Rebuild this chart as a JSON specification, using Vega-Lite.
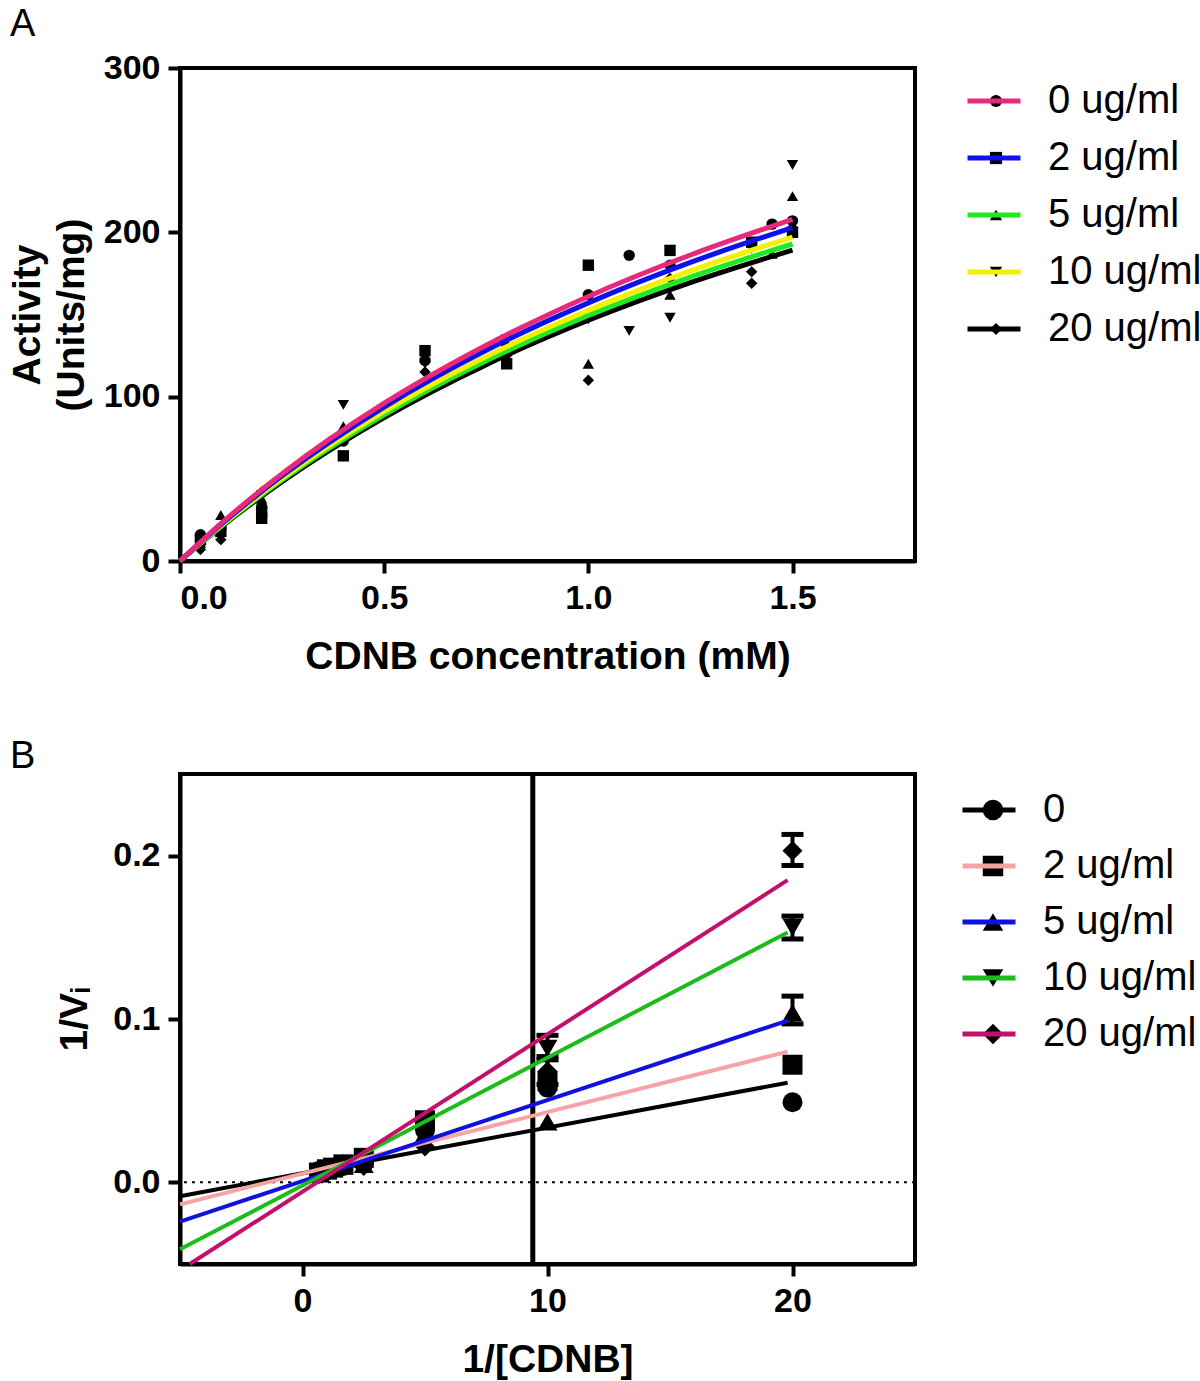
{
  "$schema": "https://vega.github.io/schema/vega-lite/v6.json",
  "background": "white",
  "padding": {"left": 6, "top": 4, "right": 0, "bottom": 0},
  "config": {
    "font": "Liberation Sans",
    "view": {"stroke": "black", "strokeWidth": 4},
    "axis": {"domainColor": "black", "domainWidth": 4, "tickColor": "black", "tickWidth": 4, "tickSize": 12, "labelFont": "Liberation Sans", "labelFontSize": 34, "labelFontWeight": "bold", "labelColor": "black", "labelPadding": 8, "titleFont": "Liberation Sans", "titleFontSize": 39, "titleFontWeight": "bold", "titleColor": "black", "titleLineHeight": 44, "grid": false},
    "legend": {"labelFont": "Liberation Sans", "labelFontSize": 40, "labelColor": "black", "padding": 0},
    "title": {"font": "Liberation Sans", "fontSize": 38, "fontWeight": "normal", "color": "black", "anchor": "start", "frame": "group", "dx": -170}
  },
  "spacing": 57,
  "resolve": {"scale": {"color": "independent", "shape": "independent", "x": "independent", "y": "independent"}},
  "vconcat": [
    {
      "title": {"text": "A", "offset": 7},
      "width": 735,
      "height": 493,
      "layer": [
        {
          "data": {"values": [
            {"group": "0 ug/ml", "S": 0.05, "V": 16}, {"group": "0 ug/ml", "S": 0.1, "V": 20}, {"group": "0 ug/ml", "S": 0.2, "V": 33}, {"group": "0 ug/ml", "S": 0.4, "V": 73}, {"group": "0 ug/ml", "S": 0.6, "V": 122}, {"group": "0 ug/ml", "S": 0.8, "V": 130}, {"group": "0 ug/ml", "S": 1.0, "V": 162}, {"group": "0 ug/ml", "S": 1.1, "V": 186}, {"group": "0 ug/ml", "S": 1.2, "V": 180}, {"group": "0 ug/ml", "S": 1.45, "V": 205}, {"group": "0 ug/ml", "S": 1.5, "V": 207},
            {"group": "2 ug/ml", "S": 0.05, "V": 13}, {"group": "2 ug/ml", "S": 0.1, "V": 18}, {"group": "2 ug/ml", "S": 0.2, "V": 26}, {"group": "2 ug/ml", "S": 0.2, "V": 30}, {"group": "2 ug/ml", "S": 0.4, "V": 64}, {"group": "2 ug/ml", "S": 0.6, "V": 128}, {"group": "2 ug/ml", "S": 0.8, "V": 120}, {"group": "2 ug/ml", "S": 1.0, "V": 180}, {"group": "2 ug/ml", "S": 1.2, "V": 189}, {"group": "2 ug/ml", "S": 1.4, "V": 194}, {"group": "2 ug/ml", "S": 1.5, "V": 200},
            {"group": "5 ug/ml", "S": 0.05, "V": 11}, {"group": "5 ug/ml", "S": 0.1, "V": 28}, {"group": "5 ug/ml", "S": 0.2, "V": 38}, {"group": "5 ug/ml", "S": 0.4, "V": 82}, {"group": "5 ug/ml", "S": 0.6, "V": 124}, {"group": "5 ug/ml", "S": 0.8, "V": 128}, {"group": "5 ug/ml", "S": 1.0, "V": 120}, {"group": "5 ug/ml", "S": 1.2, "V": 162}, {"group": "5 ug/ml", "S": 1.45, "V": 187}, {"group": "5 ug/ml", "S": 1.5, "V": 222},
            {"group": "10 ug/ml", "S": 0.05, "V": 9}, {"group": "10 ug/ml", "S": 0.1, "V": 16}, {"group": "10 ug/ml", "S": 0.2, "V": 40}, {"group": "10 ug/ml", "S": 0.4, "V": 95}, {"group": "10 ug/ml", "S": 0.6, "V": 120}, {"group": "10 ug/ml", "S": 0.8, "V": 135}, {"group": "10 ug/ml", "S": 1.0, "V": 147}, {"group": "10 ug/ml", "S": 1.1, "V": 140}, {"group": "10 ug/ml", "S": 1.2, "V": 148}, {"group": "10 ug/ml", "S": 1.4, "V": 190}, {"group": "10 ug/ml", "S": 1.5, "V": 241},
            {"group": "20 ug/ml", "S": 0.05, "V": 7}, {"group": "20 ug/ml", "S": 0.1, "V": 13}, {"group": "20 ug/ml", "S": 0.2, "V": 42}, {"group": "20 ug/ml", "S": 0.4, "V": 77}, {"group": "20 ug/ml", "S": 0.6, "V": 115}, {"group": "20 ug/ml", "S": 0.8, "V": 125}, {"group": "20 ug/ml", "S": 1.0, "V": 110}, {"group": "20 ug/ml", "S": 1.2, "V": 172}, {"group": "20 ug/ml", "S": 1.4, "V": 176}, {"group": "20 ug/ml", "S": 1.4, "V": 169}, {"group": "20 ug/ml", "S": 1.5, "V": 203}
          ]},
          "mark": {"type": "point", "filled": true, "color": "black", "opacity": 1, "size": 130},
          "encoding": {
            "x": {"field": "S", "type": "quantitative", "scale": {"domain": [0, 1.8], "nice": false, "zero": false}, "axis": {"values": [0, 0.5, 1, 1.5], "format": ".1f", "title": "CDNB concentration (mM)", "titlePadding": 22}},
            "y": {"field": "V", "type": "quantitative", "scale": {"domain": [0, 300], "nice": false}, "axis": {"values": [0, 100, 200, 300], "format": "d", "title": ["Activity", "(Units/mg)"], "titlePadding": 12}},
            "shape": {"field": "group", "type": "nominal", "scale": {"domain": ["0 ug/ml", "2 ug/ml", "5 ug/ml", "10 ug/ml", "20 ug/ml"], "range": ["circle", "square", "triangle-up", "triangle-down", "diamond"]},
              "legend": {"orient": "right", "offset": 48, "padding": 13, "title": null, "symbolSize": 150, "symbolFillColor": "black", "clipHeight": 40, "rowPadding": 17, "labelExpr": "''"}}
          }
        },
        {
          "data": {"values": [
            {"series": "20 ug/ml", "S": 0, "V": 0}, {"series": "20 ug/ml", "S": 0.1, "V": 20.6}, {"series": "20 ug/ml", "S": 0.25, "V": 48.3}, {"series": "20 ug/ml", "S": 0.5, "V": 87.3}, {"series": "20 ug/ml", "S": 0.75, "V": 119.5}, {"series": "20 ug/ml", "S": 1.0, "V": 146.5}, {"series": "20 ug/ml", "S": 1.25, "V": 169.4}, {"series": "20 ug/ml", "S": 1.5, "V": 189.2},
            {"series": "5 ug/ml", "S": 0, "V": 0}, {"series": "5 ug/ml", "S": 0.1, "V": 21.0}, {"series": "5 ug/ml", "S": 0.25, "V": 49.3}, {"series": "5 ug/ml", "S": 0.5, "V": 89.0}, {"series": "5 ug/ml", "S": 0.75, "V": 121.8}, {"series": "5 ug/ml", "S": 1.0, "V": 149.4}, {"series": "5 ug/ml", "S": 1.25, "V": 172.8}, {"series": "5 ug/ml", "S": 1.5, "V": 192.9},
            {"series": "10 ug/ml", "S": 0, "V": 0}, {"series": "10 ug/ml", "S": 0.1, "V": 21.5}, {"series": "10 ug/ml", "S": 0.25, "V": 50.3}, {"series": "10 ug/ml", "S": 0.5, "V": 91.0}, {"series": "10 ug/ml", "S": 0.75, "V": 124.5}, {"series": "10 ug/ml", "S": 1.0, "V": 152.6}, {"series": "10 ug/ml", "S": 1.25, "V": 176.5}, {"series": "10 ug/ml", "S": 1.5, "V": 197.1},
            {"series": "2 ug/ml", "S": 0, "V": 0}, {"series": "2 ug/ml", "S": 0.1, "V": 22.1}, {"series": "2 ug/ml", "S": 0.25, "V": 51.8}, {"series": "2 ug/ml", "S": 0.5, "V": 93.7}, {"series": "2 ug/ml", "S": 0.75, "V": 128.2}, {"series": "2 ug/ml", "S": 1.0, "V": 157.1}, {"series": "2 ug/ml", "S": 1.25, "V": 181.7}, {"series": "2 ug/ml", "S": 1.5, "V": 202.9},
            {"series": "0 ug/ml", "S": 0, "V": 0}, {"series": "0 ug/ml", "S": 0.1, "V": 22.7}, {"series": "0 ug/ml", "S": 0.25, "V": 53.1}, {"series": "0 ug/ml", "S": 0.5, "V": 96.0}, {"series": "0 ug/ml", "S": 0.75, "V": 131.3}, {"series": "0 ug/ml", "S": 1.0, "V": 161.0}, {"series": "0 ug/ml", "S": 1.25, "V": 186.2}, {"series": "0 ug/ml", "S": 1.5, "V": 207.9}
          ]},
          "mark": {"type": "line", "strokeWidth": 5, "interpolate": "monotone"},
          "encoding": {
            "x": {"field": "S", "type": "quantitative", "scale": {"domain": [0, 1.8], "nice": false, "zero": false}},
            "y": {"field": "V", "type": "quantitative", "scale": {"domain": [0, 300], "nice": false}},
            "color": {"field": "series", "type": "nominal", "scale": {"domain": ["0 ug/ml", "2 ug/ml", "5 ug/ml", "10 ug/ml", "20 ug/ml"], "range": ["#e8287c", "#1010ee", "#22e822", "#f2f200", "#000000"]},
              "legend": {"orient": "none", "legendX": 785, "legendY": 13, "title": null, "symbolType": "stroke", "symbolSize": 2809, "symbolStrokeWidth": 5, "clipHeight": 40, "rowPadding": 17, "labelOffset": 25}}
          }
        }
      ]
    },
    {
      "title": {"text": "B", "offset": -4},
      "width": 735,
      "height": 490,
      "layer": [
        {
          "data": {"values": [{"y": 0}]},
          "mark": {"type": "rule", "strokeDash": [3, 5], "strokeWidth": 2, "color": "black"},
          "encoding": {
            "y": {"field": "y", "type": "quantitative", "scale": {"domain": [-0.05, 0.25], "nice": false, "zero": false}, "axis": {"values": [0, 0.1, 0.2], "format": ".1f", "title": "1/Vᵢ", "titlePadding": 18}}
          }
        },
        {
          "data": {"values": [{"x": 9.4}]},
          "mark": {"type": "rule", "strokeWidth": 5, "color": "black"},
          "encoding": {
            "x": {"field": "x", "type": "quantitative", "scale": {"domain": [-5, 25], "nice": false, "zero": false}, "axis": {"values": [0, 10, 20], "format": "d", "title": "1/[CDNB]", "titlePadding": 22}}
          }
        },
        {
          "data": {"values": [
            {"g": "0", "x": 0.67, "y": 0.007}, {"g": "0", "x": 1, "y": 0.008}, {"g": "0", "x": 1.25, "y": 0.009}, {"g": "0", "x": 1.67, "y": 0.010}, {"g": "0", "x": 2.5, "y": 0.012}, {"g": "0", "x": 5, "y": 0.032}, {"g": "0", "x": 10, "y": 0.058}, {"g": "0", "x": 20, "y": 0.049},
            {"g": "2 ug/ml", "x": 0.67, "y": 0.006}, {"g": "2 ug/ml", "x": 1, "y": 0.008}, {"g": "2 ug/ml", "x": 1.25, "y": 0.009}, {"g": "2 ug/ml", "x": 1.67, "y": 0.011}, {"g": "2 ug/ml", "x": 2.5, "y": 0.015}, {"g": "2 ug/ml", "x": 5, "y": 0.038}, {"g": "2 ug/ml", "x": 10, "y": 0.062}, {"g": "2 ug/ml", "x": 20, "y": 0.072},
            {"g": "5 ug/ml", "x": 0.67, "y": 0.006}, {"g": "5 ug/ml", "x": 1, "y": 0.007}, {"g": "5 ug/ml", "x": 1.25, "y": 0.009}, {"g": "5 ug/ml", "x": 1.67, "y": 0.010}, {"g": "5 ug/ml", "x": 2.5, "y": 0.011}, {"g": "5 ug/ml", "x": 5, "y": 0.030}, {"g": "5 ug/ml", "x": 10, "y": 0.037}, {"g": "5 ug/ml", "x": 20, "y": 0.104},
            {"g": "10 ug/ml", "x": 0.67, "y": 0.005}, {"g": "10 ug/ml", "x": 1, "y": 0.007}, {"g": "10 ug/ml", "x": 1.25, "y": 0.008}, {"g": "10 ug/ml", "x": 1.67, "y": 0.010}, {"g": "10 ug/ml", "x": 2.5, "y": 0.013}, {"g": "10 ug/ml", "x": 5, "y": 0.035}, {"g": "10 ug/ml", "x": 10, "y": 0.082}, {"g": "10 ug/ml", "x": 20, "y": 0.156},
            {"g": "20 ug/ml", "x": 0.67, "y": 0.005}, {"g": "20 ug/ml", "x": 1, "y": 0.006}, {"g": "20 ug/ml", "x": 1.25, "y": 0.008}, {"g": "20 ug/ml", "x": 1.67, "y": 0.011}, {"g": "20 ug/ml", "x": 2.5, "y": 0.010}, {"g": "20 ug/ml", "x": 5, "y": 0.022}, {"g": "20 ug/ml", "x": 10, "y": 0.068}, {"g": "20 ug/ml", "x": 20, "y": 0.203}
          ]},
          "mark": {"type": "point", "filled": true, "color": "black", "opacity": 1, "size": 400},
          "encoding": {
            "x": {"field": "x", "type": "quantitative", "scale": {"domain": [-5, 25], "nice": false, "zero": false}},
            "y": {"field": "y", "type": "quantitative", "scale": {"domain": [-0.05, 0.25], "nice": false, "zero": false}},
            "shape": {"field": "g", "type": "nominal", "scale": {"domain": ["0", "2 ug/ml", "5 ug/ml", "10 ug/ml", "20 ug/ml"], "range": ["circle", "square", "triangle-up", "triangle-down", "diamond"]},
              "legend": {"orient": "right", "offset": 42, "padding": 16, "title": null, "symbolSize": 420, "symbolFillColor": "black", "clipHeight": 40, "rowPadding": 16, "labelExpr": "''"}}
          }
        },
        {
          "data": {"values": [
            {"g": "5 ug/ml", "x": 20, "lo": 0.097, "hi": 0.114},
            {"g": "10 ug/ml", "x": 20, "lo": 0.149, "hi": 0.163},
            {"g": "20 ug/ml", "x": 20, "lo": 0.194, "hi": 0.213},
            {"g": "10 ug/ml", "x": 10, "lo": 0.077, "hi": 0.090},
            {"g": "20 ug/ml", "x": 10, "lo": 0.060, "hi": 0.075}
          ]},
          "layer": [
            {"mark": {"type": "rule", "strokeWidth": 4, "color": "black"},
             "encoding": {"x": {"field": "x", "type": "quantitative", "scale": {"domain": [-5, 25], "nice": false, "zero": false}}, "y": {"field": "lo", "type": "quantitative", "scale": {"domain": [-0.05, 0.25], "nice": false, "zero": false}}, "y2": {"field": "hi"}}},
            {"mark": {"type": "tick", "orient": "horizontal", "size": 22, "thickness": 5, "color": "black", "opacity": 1},
             "encoding": {"x": {"field": "x", "type": "quantitative", "scale": {"domain": [-5, 25], "nice": false, "zero": false}}, "y": {"field": "lo", "type": "quantitative", "scale": {"domain": [-0.05, 0.25], "nice": false, "zero": false}}}},
            {"mark": {"type": "tick", "orient": "horizontal", "size": 22, "thickness": 5, "color": "black", "opacity": 1},
             "encoding": {"x": {"field": "x", "type": "quantitative", "scale": {"domain": [-5, 25], "nice": false, "zero": false}}, "y": {"field": "hi", "type": "quantitative", "scale": {"domain": [-0.05, 0.25], "nice": false, "zero": false}}}}
          ]
        },
        {
          "data": {"values": [
            {"s": "0", "x": -5, "y": -0.0085}, {"s": "0", "x": 19.8, "y": 0.061},
            {"s": "2 ug/ml", "x": -5, "y": -0.0135}, {"s": "2 ug/ml", "x": 19.8, "y": 0.080},
            {"s": "5 ug/ml", "x": -5, "y": -0.024}, {"s": "5 ug/ml", "x": 19.8, "y": 0.099},
            {"s": "10 ug/ml", "x": -5, "y": -0.041}, {"s": "10 ug/ml", "x": 19.8, "y": 0.153},
            {"s": "20 ug/ml", "x": -4.6, "y": -0.05}, {"s": "20 ug/ml", "x": 19.8, "y": 0.185}
          ]},
          "mark": {"type": "line", "strokeWidth": 4},
          "encoding": {
            "x": {"field": "x", "type": "quantitative", "scale": {"domain": [-5, 25], "nice": false, "zero": false}},
            "y": {"field": "y", "type": "quantitative", "scale": {"domain": [-0.05, 0.25], "nice": false, "zero": false}},
            "color": {"field": "s", "type": "nominal", "scale": {"domain": ["0", "2 ug/ml", "5 ug/ml", "10 ug/ml", "20 ug/ml"], "range": ["#000000", "#f5a3a3", "#1010e0", "#1cbc1c", "#c4106a"]},
              "legend": {"orient": "none", "legendX": 780, "legendY": 16, "title": null, "symbolType": "stroke", "symbolSize": 2809, "symbolStrokeWidth": 5, "clipHeight": 40, "rowPadding": 16, "labelOffset": 25}}
          }
        }
      ]
    }
  ]
}
